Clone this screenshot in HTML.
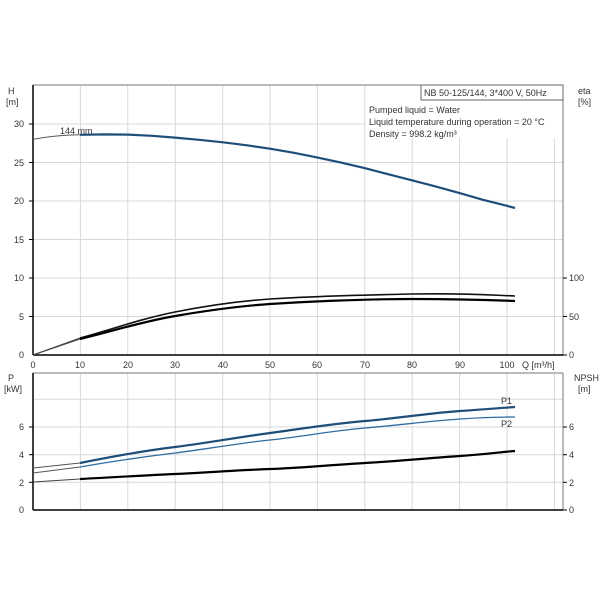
<!DOCTYPE html>
<html><head><meta charset="utf-8"><style>
html,body{margin:0;padding:0;background:#fff;}
svg{display:block;font-family:"Liberation Sans",Arial,sans-serif;}
</style></head><body>
<svg width="603" height="603" viewBox="0 0 603 603" xmlns="http://www.w3.org/2000/svg">
<rect width="603" height="603" fill="#fff"/>
<g stroke="#d8d8d8" stroke-width="1">
<line x1="80.4" y1="85" x2="80.4" y2="355"/><line x1="127.8" y1="85" x2="127.8" y2="355"/>
<line x1="175.2" y1="85" x2="175.2" y2="355"/><line x1="222.6" y1="85" x2="222.6" y2="355"/>
<line x1="270" y1="85" x2="270" y2="355"/><line x1="317.4" y1="85" x2="317.4" y2="355"/>
<line x1="364.8" y1="85" x2="364.8" y2="355"/><line x1="412.2" y1="85" x2="412.2" y2="355"/>
<line x1="459.6" y1="85" x2="459.6" y2="355"/><line x1="507" y1="85" x2="507" y2="355"/>
<line x1="554.4" y1="85" x2="554.4" y2="355"/>
<line x1="33" y1="316.5" x2="563" y2="316.5"/><line x1="33" y1="278" x2="563" y2="278"/>
<line x1="33" y1="239.5" x2="563" y2="239.5"/><line x1="33" y1="201" x2="563" y2="201"/>
<line x1="33" y1="162.5" x2="563" y2="162.5"/><line x1="33" y1="124" x2="563" y2="124"/>
</g>
<rect x="366" y="86" width="196" height="52" fill="#fff"/>
<line x1="33" y1="85" x2="563" y2="85" stroke="#777" stroke-width="1"/>
<line x1="563" y1="85" x2="563" y2="355" stroke="#777" stroke-width="1"/>
<line x1="33" y1="85" x2="33" y2="355" stroke="#000" stroke-width="1.5"/>
<line x1="33" y1="355" x2="563" y2="355" stroke="#000" stroke-width="1.5"/>
<rect x="421" y="85" width="142" height="15" fill="#fff" stroke="#666" stroke-width="1"/>
<g font-size="9" fill="#333">
<text x="424" y="96">NB 50-125/144, 3*400 V, 50Hz</text>
<text x="369" y="113">Pumped liquid = Water</text>
<text x="369" y="125">Liquid temperature during operation = 20 °C</text>
<text x="369" y="137">Density = 998.2 kg/m³</text>
<text x="60" y="134">144 mm</text>
</g>
<path d="M33,139.4 C50,136 65,135 80,134.8" fill="none" stroke="#555" stroke-width="1"/>
<polyline points="80,134.8 104,134.4 128,134.6 152,135.8 175,137.6 199,139.8 223,142.3 246,145.2 270,148.7 294,152.8 317,157.4 341,162.6 365,168.2 388,174.2 412,180.3 436,186.6 460,193.2 483,199.8 499,203.8 515,208" fill="none" stroke="#1f4e79" stroke-width="2.2" stroke-linejoin="round"/>
<path d="M33,355 L80,338" fill="none" stroke="#444" stroke-width="1"/>
<path d="M33,355 L80,339" fill="none" stroke="#444" stroke-width="1"/>
<path d="M80,338 C110,330 140,319 175,312 S240,301 270,299 S360,295 412,294 S490,295 515,296" fill="none" stroke="#111" stroke-width="1.6"/>
<path d="M80,339 C110,332 140,322 175,316 S240,306 270,304 S360,299 412,299 S490,300 515,301" fill="none" stroke="#000" stroke-width="2.2"/>
<g font-size="9" fill="#333">
<text x="8" y="94">H</text><text x="6" y="105">[m]</text>
<text x="578" y="94">eta</text><text x="578" y="105">[%]</text>
<g text-anchor="end">
<text x="24" y="358">0</text><text x="24" y="320">5</text><text x="24" y="281">10</text>
<text x="24" y="243">15</text><text x="24" y="204">20</text><text x="24" y="166">25</text><text x="24" y="127">30</text>
</g>
<text x="569" y="358">0</text><text x="569" y="320">50</text><text x="569" y="281">100</text>
<g text-anchor="middle">
<text x="33" y="368">0</text><text x="80" y="368">10</text><text x="128" y="368">20</text><text x="175" y="368">30</text>
<text x="223" y="368">40</text><text x="270" y="368">50</text><text x="317" y="368">60</text><text x="365" y="368">70</text>
<text x="412" y="368">80</text><text x="460" y="368">90</text><text x="507" y="368">100</text>
</g>
<text x="522" y="368">Q [m³/h]</text>
</g>
<g stroke="#000"><line x1="563" y1="355" x2="567" y2="355"/><line x1="563" y1="316.5" x2="567" y2="316.5"/><line x1="563" y1="278" x2="567" y2="278"/>
<line x1="29" y1="316.5" x2="33" y2="316.5"/><line x1="29" y1="278" x2="33" y2="278"/><line x1="29" y1="239.5" x2="33" y2="239.5"/><line x1="29" y1="201" x2="33" y2="201"/><line x1="29" y1="162.5" x2="33" y2="162.5"/><line x1="29" y1="124" x2="33" y2="124"/></g>
<g stroke="#d8d8d8" stroke-width="1">
<line x1="80.4" y1="373" x2="80.4" y2="510"/><line x1="127.8" y1="373" x2="127.8" y2="510"/>
<line x1="175.2" y1="373" x2="175.2" y2="510"/><line x1="222.6" y1="373" x2="222.6" y2="510"/>
<line x1="270" y1="373" x2="270" y2="510"/><line x1="317.4" y1="373" x2="317.4" y2="510"/>
<line x1="364.8" y1="373" x2="364.8" y2="510"/><line x1="412.2" y1="373" x2="412.2" y2="510"/>
<line x1="459.6" y1="373" x2="459.6" y2="510"/><line x1="507" y1="373" x2="507" y2="510"/>
<line x1="554.4" y1="373" x2="554.4" y2="510"/>
<line x1="33" y1="482.3" x2="563" y2="482.3"/><line x1="33" y1="454.7" x2="563" y2="454.7"/>
<line x1="33" y1="427" x2="563" y2="427"/><line x1="33" y1="399.3" x2="563" y2="399.3"/>
</g>
<line x1="33" y1="373" x2="563" y2="373" stroke="#777"/>
<line x1="563" y1="373" x2="563" y2="510" stroke="#777"/>
<line x1="33" y1="373" x2="33" y2="510" stroke="#000" stroke-width="1.5"/>
<line x1="33" y1="510" x2="563" y2="510" stroke="#000" stroke-width="1.5"/>
<path d="M33,468 L80,463" fill="none" stroke="#555" stroke-width="1"/>
<path d="M80,463 C120,455 150,450 175,447 S240,437 270,433 S330,424 365,421 S430,413 460,411 S500,408 515,407" fill="none" stroke="#1f4e79" stroke-width="2.2"/>
<path d="M33,473 L80,467" fill="none" stroke="#555" stroke-width="1"/>
<path d="M80,467 C120,460 150,456 175,453 S240,443 270,440 S330,431 365,428 S430,421 460,419 S500,417 515,417" fill="none" stroke="#2e6ca0" stroke-width="1.3"/>
<path d="M33,482 L80,479" fill="none" stroke="#444" stroke-width="1"/>
<path d="M80,479 C120,477 150,475 175,474 S240,470 270,469 S330,465 365,463 S430,458 460,456 S500,452 515,451" fill="none" stroke="#000" stroke-width="2.2"/>
<g font-size="9" fill="#333">
<text x="501" y="404">P1</text><text x="501" y="427">P2</text>
<text x="8" y="381">P</text><text x="4" y="392">[kW]</text>
<text x="574" y="381">NPSH</text><text x="578" y="392">[m]</text>
<g text-anchor="end">
<text x="24" y="513">0</text><text x="24" y="486">2</text><text x="24" y="458">4</text><text x="24" y="430">6</text>
</g>
<text x="569" y="513">0</text><text x="569" y="486">2</text><text x="569" y="458">4</text><text x="569" y="430">6</text>
</g>
<g stroke="#000"><line x1="563" y1="482.3" x2="567" y2="482.3"/><line x1="563" y1="454.7" x2="567" y2="454.7"/><line x1="563" y1="427" x2="567" y2="427"/><line x1="563" y1="510" x2="567" y2="510"/>
<line x1="29" y1="482.3" x2="33" y2="482.3"/><line x1="29" y1="454.7" x2="33" y2="454.7"/><line x1="29" y1="427" x2="33" y2="427"/></g>
</svg>
</body></html>
